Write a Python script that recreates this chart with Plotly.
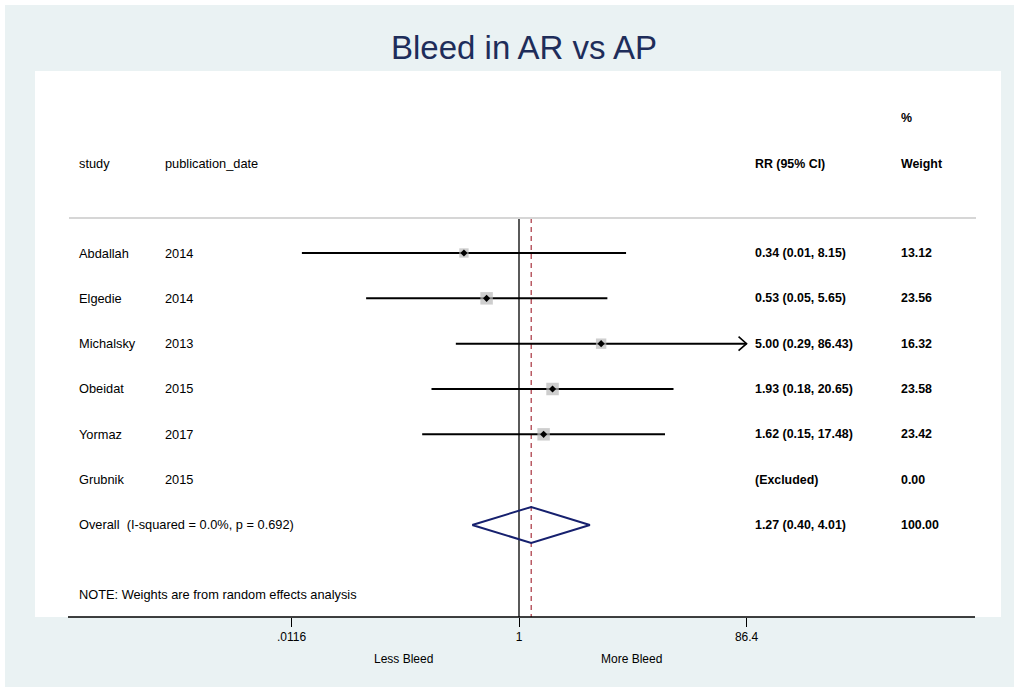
import math
import plotly.graph_objects as go

# ---------------- data ----------------
studies = ["Abdallah", "Elgedie", "Michalsky", "Obeidat", "Yormaz", "Grubnik"]
pub_dates = ["2014", "2014", "2013", "2015", "2017", "2015"]
rr = [0.34, 0.53, 5.00, 1.93, 1.62, None]
ci_lo = [0.0142, 0.05, 0.29, 0.18, 0.15, None]
ci_hi = [8.15, 5.65, 86.43, 20.65, 17.48, None]
weights = [13.12, 23.56, 16.32, 23.58, 23.42, 0.00]
overall_rr, overall_lo, overall_hi = 1.27, 0.40, 4.01
overall_label = "Overall\u00a0 (I-squared = 0.0%, p = 0.692)"
tick_vals = [0.0116, 1, 86.4]
tick_text = [".0116", "1", "86.4"]
note_text = "NOTE: Weights are from random effects analysis"

# ---------------- layout geometry (pixels) ----------------
W, H = 1019, 692
L, R, T, B = 35, 1001, 71, 617
XR = [-4.119, 4.102]           # log10 range of x axis
ROW0, STEP = 253, 45.33        # pixel y of first row and row spacing
yr_top = (T - ROW0) / STEP
yr_bot = (B - ROW0) / STEP


def px(xp):
    return (xp - L) / (R - L)


def py(yp):
    return (B - yp) / (B - T)


def row_of(yp):
    return (yp - ROW0) / STEP


FONT = "Liberation Sans, Arial, sans-serif"
xmax = tick_vals[-1]
sep_row = row_of(218)
px_per_dec = (R - L) / (XR[1] - XR[0])

fig = go.Figure()

# null line and overall dashed line
fig.add_trace(go.Scatter(x=[1, 1], y=[sep_row, yr_bot], mode="lines",
                         line=dict(color="black", width=1.3), hoverinfo="skip"))
fig.add_trace(go.Scatter(x=[overall_rr, overall_rr], y=[sep_row, yr_bot], mode="lines",
                         line=dict(color="#A8323E", width=1.2, dash="5px,4px"), hoverinfo="skip"))

# CI lines
cx, cy = [], []
ax_, ay_ = [], []
arm_dx = 10 ** (8 / px_per_dec)
arm_dy = 7 / STEP
for i, (lo, hi) in enumerate(zip(ci_lo, ci_hi)):
    if lo is None:
        continue
    hi_c = min(hi, xmax)
    cx += [lo, hi_c, None]
    cy += [i, i, None]
    if hi > xmax:
        ax_ += [hi_c / arm_dx, hi_c, hi_c / arm_dx, None]
        ay_ += [i - arm_dy, i, i + arm_dy, None]
fig.add_trace(go.Scatter(x=cx, y=cy, mode="lines", line=dict(color="black", width=2),
                         hoverinfo="skip"))
fig.add_trace(go.Scatter(x=ax_, y=ay_, mode="lines", line=dict(color="black", width=1.6),
                         hoverinfo="skip"))

# weight boxes and point estimates
idx = [i for i, v in enumerate(rr) if v is not None]
wmax = max(weights)
fig.add_trace(go.Scatter(
    x=[rr[i] for i in idx], y=idx, mode="markers",
    marker=dict(symbol="square", color="#B9B9B9",
                size=[12.5 * math.sqrt(weights[i] / wmax) for i in idx],
                line=dict(width=0)),
    hoverinfo="skip"))
fig.add_trace(go.Scatter(
    x=[rr[i] for i in idx], y=idx, mode="markers",
    marker=dict(symbol="diamond", color="black", size=5.5, line=dict(width=0)),
    hoverinfo="skip"))

# overall diamond
orow = len(studies)
dh = 18 / STEP
fig.add_trace(go.Scatter(
    x=[overall_lo, overall_rr, overall_hi, overall_rr, overall_lo],
    y=[orow, orow - dh, orow, orow + dh, orow],
    mode="lines", line=dict(color="#16206E", width=2), hoverinfo="skip"))

# ---------------- annotations ----------------
ann = []


def txt(x, y, s, bold=False, yref="y", size=None, xanchor="left"):
    if size is None:
        size = 12.4 if bold else 12.8
    ann.append(dict(x=x, y=y, xref="paper", yref=yref, text=f"<b>{s}</b>" if bold else s,
                    showarrow=False, xanchor=xanchor, yanchor="middle",
                    font=dict(family=FONT, size=size, color="black")))


C1, C2, C3, C4 = px(77), px(163), px(753), px(899)
txt(C1, py(164), "study", yref="paper")
txt(C2, py(164), "publication_date", yref="paper")
txt(C3, py(164), "RR (95% CI)", bold=True, yref="paper")
txt(C4, py(164), "Weight", bold=True, yref="paper")
txt(C4, py(118), "%", bold=True, yref="paper")

for i, s in enumerate(studies):
    txt(C1, i, s)
    txt(C2, i, pub_dates[i])
    if rr[i] is None:
        txt(C3, i, "(Excluded)", bold=True)
    else:
        txt(C3, i, f"{rr[i]:.2f} ({ci_lo[i]:.2f}, {ci_hi[i]:.2f})", bold=True)
    txt(C4, i, f"{weights[i]:.2f}", bold=True)

txt(C1, orow, overall_label)
txt(C3, orow, f"{overall_rr:.2f} ({overall_lo:.2f}, {overall_hi:.2f})", bold=True)
txt(C4, orow, f"{sum(weights):.2f}", bold=True)
txt(C1, py(594), note_text, yref="paper")

txt(px(403), py(659), "Less Bleed", yref="paper", xanchor="center", size=12)
txt(px(631), py(659), "More Bleed", yref="paper", xanchor="center", size=12)

# ---------------- shapes ----------------
shapes = [
    dict(type="line", xref="paper", yref="paper", x0=px(69), x1=px(976), y0=py(218), y1=py(218),
         line=dict(color="#D6D6D6", width=2)),
    dict(type="line", xref="paper", yref="paper", x0=px(68), x1=px(975), y0=0, y1=0,
         line=dict(color="black", width=1.5)),
]
# thin white outer border
for (x0, x1, y0, y1) in [(0, W, 0, 5), (0, W, H - 5, H), (0, 5, 0, H), (W - 5, W, 0, H)]:
    shapes.append(dict(type="rect", xref="paper", yref="paper", x0=px(x0), x1=px(x1),
                       y0=py(y0), y1=py(y1), fillcolor="white", line=dict(width=0),
                       layer="above"))

fig.update_layout(
    width=W, height=H,
    margin=dict(l=L, r=W - R, t=T, b=H - B, pad=0),
    paper_bgcolor="#EAF2F3", plot_bgcolor="white",
    showlegend=False,
    title=dict(text="Bleed in AR vs AP", x=524 / W, xanchor="center", xref="container",
               y=1 - 47 / H, yanchor="middle", yref="container",
               font=dict(family=FONT, size=33, color="#1E2D5A")),
    xaxis=dict(type="log", range=XR, tickvals=tick_vals, ticktext=tick_text,
               ticks="outside", ticklen=9, tickwidth=1, tickcolor="black",
               showgrid=False, zeroline=False, showline=False,
               tickfont=dict(family=FONT, size=12, color="black")),
    yaxis=dict(range=[yr_bot, yr_top], visible=False, showgrid=False, zeroline=False),
    annotations=ann, shapes=shapes,
)

fig.write_html("out.html", config={"displayModeBar": False},
               post_script="document.body.style.margin='0';document.body.style.overflow='hidden';")
